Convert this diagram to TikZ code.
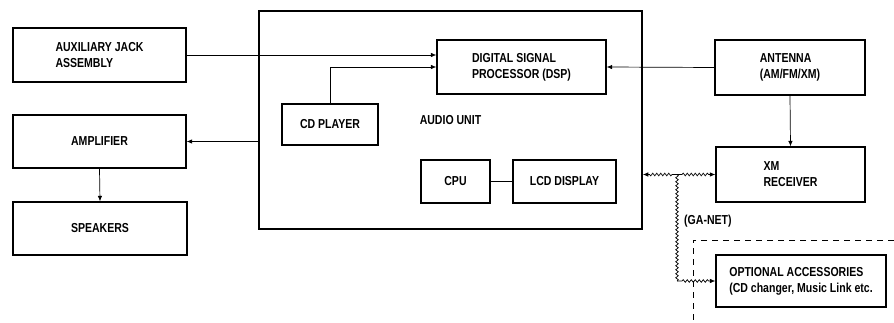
\documentclass[tikz,border=0pt]{standalone}
\usepackage{fontspec}
\setmainfont{Liberation Sans}[FakeStretch=0.81]
\usetikzlibrary{arrows.meta,decorations.pathmorphing}
\begin{document}
\begin{tikzpicture}[x=1pt,y=-1pt,
  lbl/.style={font=\fontsize{13}{16}\selectfont\bfseries},
  box/.style={draw, line width=1.3pt, inner sep=0pt, align=left, lbl},
  conn/.style={line width=0.7pt, -{Latex[length=5.5pt,width=4.5pt]}},
  plain/.style={line width=0.7pt},
  wavy/.style={line width=0.7pt, decorate, decoration={snake, amplitude=1.3pt, segment length=4pt, pre length=5pt, post length=5pt}}]
\useasboundingbox (0,0) rectangle (894,323);
% outer audio unit
\node[box, line width=1.6pt, minimum width=383pt, minimum height=218pt] (au) at (450.5,120) {AUDIO UNIT};
% left column
\node[box, minimum width=173pt, minimum height=54pt] (aux) at (99.5,55) {AUXILIARY JACK\\ASSEMBLY};
\node[box, minimum width=173pt, minimum height=53pt] (amp) at (99.5,141.5) {AMPLIFIER};
\node[box, minimum width=174pt, minimum height=53pt] (spk) at (100,228.5) {SPEAKERS};
% inside audio unit
\node[box, minimum width=169pt, minimum height=54pt] (dsp) at (521.5,67) {DIGITAL SIGNAL\\PROCESSOR (DSP)};
\node[box, minimum width=96pt, minimum height=41pt] (cd) at (330,124.5) {CD PLAYER};
\node[box, minimum width=69pt, minimum height=43pt] (cpu) at (455.5,181.5) {CPU};
\node[box, minimum width=103pt, minimum height=43pt] (lcd) at (564.5,181.5) {LCD DISPLAY};
% right column
\node[box, minimum width=150pt, minimum height=55pt] (ant) at (790,67.5) {ANTENNA\\(AM/FM/XM)};
\node[box, minimum width=149pt, minimum height=55pt] (xm) at (790.5,174.5) {XM\\RECEIVER};
\node[box, minimum width=170pt, minimum height=52pt] (opt) at (801,281) {OPTIONAL ACCESSORIES\\(CD changer, Music Link etc.};
% label
\node[lbl, anchor=west, inner sep=0pt] (ganet) at (684,221) {(GA-NET)};
% connectors
\draw[conn] (aux.east) -- (aux.east -| dsp.west);
\draw[conn] (cd.north) |- (dsp.west);
\draw[conn] (ant.west) -- (dsp.east);
\draw[conn] (ant.south) -- (xm.north);
\draw[conn] (au.west |- amp.east) -- (amp.east);
\draw[conn] (amp.south) -- (spk.north);
\draw[plain] (cpu.east) -- (lcd.west);
% GA-NET bus
\coordinate (j) at (677,174.5);
\coordinate (j2) at (677,281);
\draw[wavy, -{Latex[length=5.5pt,width=4.5pt]}] (j) -- (au.east |- j);
\draw[wavy, -{Latex[length=5.5pt,width=4.5pt]}] (j) -- (xm.west);
\draw[wavy, decoration={pre length=0pt, post length=0pt}] (j) -- (j2);
\draw[wavy, -{Latex[length=5.5pt,width=4.5pt]}] (j2) -- (opt.west);
% optional area (dashed)
\draw[line width=0.7pt, dash pattern=on 6pt off 5pt] (894,240) -- (693,240) -- (693,323);
\end{tikzpicture}
\end{document}
